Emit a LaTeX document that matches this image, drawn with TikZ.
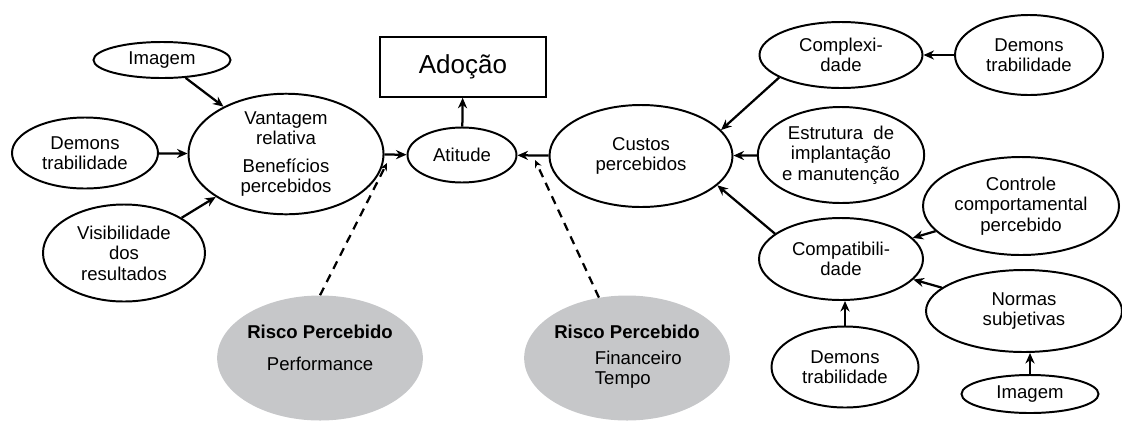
\documentclass[tikz,border=0pt]{standalone}
\usepackage{fontspec}
\setmainfont{Liberation Sans}
\usetikzlibrary{shapes.geometric,arrows.meta}
\definecolor{riscocinza}{RGB}{198,199,201}
\newcommand{\txt}{\fontsize{13.2}{14.6}\selectfont}

\begin{document}
\begin{tikzpicture}[x=0.025cm, y=-0.025cm,
		oval/.style 2 args={draw, ellipse, line width=1.4pt, inner sep=0pt, minimum width=#1*0.025cm, minimum height=#2*0.025cm, align=center, font=\txt},
		risco/.style 2 args={ellipse, fill=riscocinza, inner sep=0pt, minimum width=#1*0.025cm, minimum height=#2*0.025cm, align=center, font=\txt},
		seta/.style={line width=1.6pt, -{Stealth[length=7.5pt,width=6.5pt]}},
		tracejado/.style={line width=1.6pt, dash pattern=on 6pt off 4.5pt, -{Stealth[length=5.5pt,width=5pt]}}]
	\useasboundingbox (0,0) rectangle (1122,423);
	\node[draw, line width=1.1pt, minimum width=4.15cm, minimum height=1.5cm, font=\fontsize{18.5}{20}\selectfont] (adocao) at (463,67) {Adoção};
	\node[oval={137}{36}] (imagemA) at (162,60) {Imagem};
	\node[oval={146}{71}] (demonsA) at (85,153) {Demons\\trabilidade};
	\node[oval={195}{102}] (vantagem) at (286,154) {Vantagem\\relativa\\[5pt]Benefícios\\percebidos};
	\node[oval={162}{97}] (visib) at (124,253) {Visibilidade\\dos\\resultados};
	\node[oval={109}{55}] (atitude) at (462,155) {Atitude};
	\node[oval={183}{102}] (custos) at (641,156) {Custos\\percebidos};
	\node[oval={163}{66}] (complex) at (841,55) {Complexi-\\dade};
	\node[oval={148}{80}] (demonsB) at (1029,55) {Demons\\trabilidade};
	\node[oval={163}{96}] (estrutura) at (841,155) {Estrutura\ \ de\\implantação\\e manutenção};
	\node[oval={196}{98}] (controle) at (1021,206) {Controle\\comportamental\\percebido};
	\node[oval={164}{82}] (compat) at (841,259) {Compatibili-\\dade};
	\node[oval={196}{82}] (normas) at (1024,311) {Normas\\subjetivas};
	\node[oval={147}{81}] (demonsC) at (845,367) {Demons\\trabilidade};
	\node[oval={137}{38}] (imagemB) at (1030,394) {Imagem};
	\node[risco={200}{125}] (perf) at (320,358) {\textbf{Risco Percebido}\\[8pt]Performance\\ \mbox{}};
	\node[risco={200}{125}] (fin) at (627,358) {\textbf{Risco Percebido}\\[7pt]\hspace*{16pt}\begin{tabular}{@{}l@{}}Financeiro\\Tempo\end{tabular}};
	\coordinate (t1) at (387,163);
	\coordinate (t2) at (535,160);
	\draw[seta] (imagemA) -- (vantagem);
	\draw[seta] (demonsA) -- (vantagem);
	\draw[seta] (visib) -- (vantagem);
	\draw[seta] (vantagem) -- (atitude);
	\draw[seta] (atitude) -- (adocao);
	\draw[seta] (custos) -- (atitude);
	\draw[seta] (complex.200) -- (custos.18);
	\draw[seta] (demonsB) -- (complex);
	\draw[seta] (estrutura) -- (custos);
	\draw[seta] (compat.159) -- (custos.-21);
	\draw[seta] (controle) -- (compat);
	\draw[seta] (normas) -- (compat);
	\draw[seta] (demonsC) -- (demonsC |- compat.south);
	\draw[seta] (imagemB) -- (imagemB |- normas.south);
	\draw[tracejado] (perf.north) -- (t1);
	\draw[tracejado] (fin) -- (t2);
\end{tikzpicture}
\end{document}
